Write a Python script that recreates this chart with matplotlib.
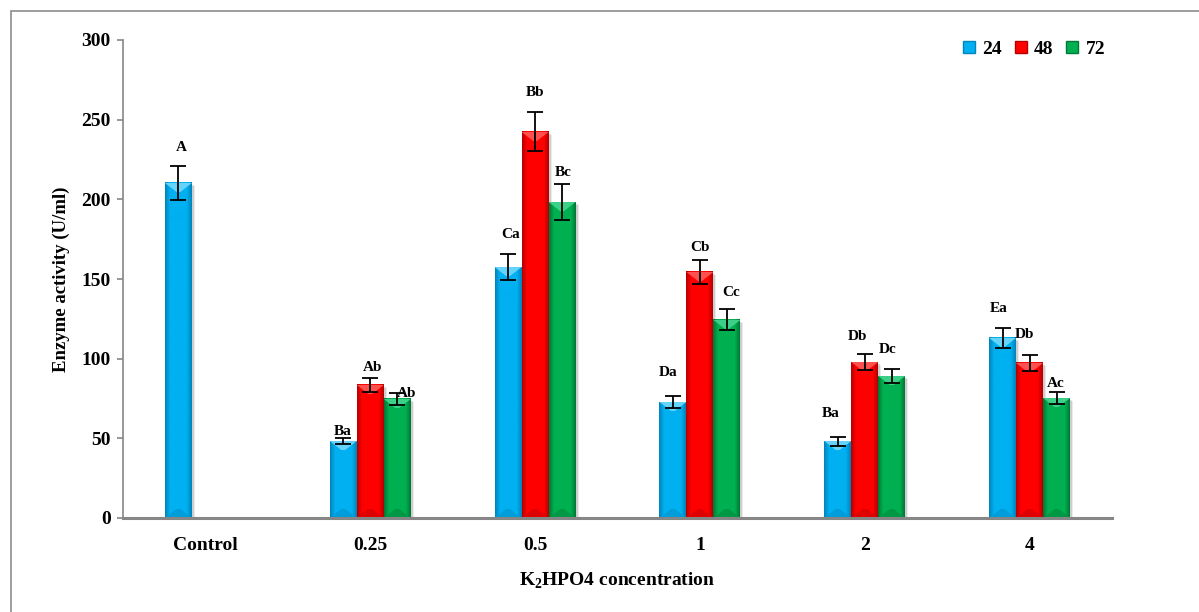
import numpy as np
import matplotlib
matplotlib.use('Agg')
import matplotlib.pyplot as plt
from matplotlib.colors import to_rgb
from matplotlib.patches import Polygon, Rectangle
from matplotlib.lines import Line2D

plt.rcParams['font.family'] = ['Liberation Serif', 'DejaVu Serif']
plt.rcParams['font.weight'] = 'bold'
plt.rcParams['mathtext.fontset'] = 'custom'
plt.rcParams['mathtext.rm'] = 'Liberation Serif:bold'
plt.rcParams['mathtext.bf'] = 'Liberation Serif:bold'

# K2HPO4 concentrations and incubation times (h)
concentrations = ['Control', '0.25', '0.5', '1', '2', '4']
hours = ['24', '48', '72']

# enzyme activity (U/ml), mean and error
act_24 = [210.3, 48.3, 157.5, 72.8, 48.3, 113.0]
act_48 = [np.nan, 83.5, 242.3, 154.4, 97.9, 97.3]
act_72 = [np.nan, 74.7, 198.3, 124.3, 89.1, 75.3]

err_24 = [10.7, 2.0, 8.2, 3.5, 2.8, 6.0]
err_48 = [0.0, 4.4, 12.2, 7.5, 5.0, 5.0]
err_72 = [0.0, 3.8, 11.3, 6.6, 4.4, 3.8]

# significance letters
let_24 = ['A', 'Ba', 'Ca', 'Da', 'Ba', 'Ea']
let_48 = ['', 'Ab', 'Bb', 'Cb', 'Db', 'Db']
let_72 = ['', 'Ab', 'Bc', 'Cc', 'Dc', 'Ac']

# letter nudges in pixels (dx, dy above the error cap)
nudge_24 = [(3, 18), (-1, 6), (2, 19), (-5, 24), (-7, 23), (-4, 20)]
nudge_48 = [(0, 0), (2, 10), (0, 20), (0, 13), (-7, 18), (-5, 21)]
nudge_72 = [(0, 0), (9, -1), (1, 12), (4, 17), (-4, 20), (-1, 8)]

colors = ['#00B0F0', '#FF0000', '#00B050']
edge_cols = ['#0086BE', '#B80000', '#007A38']
top_cols = ['#66D4FA', '#FF5050', '#3CD088']

W_PX, H_PX = 1199, 612
fig = plt.figure(figsize=(W_PX / 100, H_PX / 100), dpi=100)
ax_l, ax_b, ax_w, ax_h = 123, 94, 989, 478
ax = fig.add_axes([ax_l / W_PX, ax_b / H_PX, ax_w / W_PX, ax_h / H_PX])

xlim = (-0.5, len(concentrations) - 0.5)
ylim = (0, 300)
px_x = ax_w / (xlim[1] - xlim[0])
px_y = ax_h / (ylim[1] - ylim[0])

x = np.arange(len(concentrations))
bw = 27 / px_x


def mix(c, other, t):
    c = np.array(to_rgb(c))
    o = np.array(to_rgb(other))
    return tuple(c * (1 - t) + o * t)


def bevel_bar(xc, v, base, edge, top):
    x0, x1 = xc - bw / 2, xc + bw / 2
    # soft drop shadow
    for k, a in [(3, 0.08), (2, 0.12)]:
        ax.add_patch(Rectangle((x0 + k / px_x, -k / px_y), bw, v,
                               facecolor='black', alpha=a, lw=0, zorder=1))
    # body with darker side facets
    n = 27
    pos = np.linspace(0, 1, n)
    t = np.clip(np.maximum(0.18 - pos, pos - 0.82) / 0.18, 0, 1)
    grad = np.array([mix(base, edge, ti) for ti in t])[None, :, :]
    ax.imshow(grad, extent=[x0, x1, 0, v], aspect='auto',
              interpolation='bilinear', zorder=2)
    # top facet
    d = 9 / px_y
    s = 2 / px_x
    ax.add_patch(Polygon([(x0, v), (x1, v), (xc + s, v - d), (xc - s, v - d)],
                         closed=True, facecolor=top, lw=0, zorder=3))
    # bottom facet
    ax.add_patch(Polygon([(x0, 0), (x1, 0), (xc + s, d), (xc - s, d)],
                         closed=True, facecolor=mix(base, edge, 0.45),
                         lw=0, zorder=3))


series = [(act_24, err_24, let_24, nudge_24),
          (act_48, err_48, let_48, nudge_48),
          (act_72, err_72, let_72, nudge_72)]

for i, (vals, errs, lets, nudges) in enumerate(series):
    xs = x + (i - 1) * bw
    for xc, v, e, lab, (dx, dy) in zip(xs, vals, errs, lets, nudges):
        if np.isnan(v):
            continue
        bevel_bar(xc, v, colors[i], edge_cols[i], top_cols[i])
        ax.errorbar(xc, v, yerr=e, fmt='none', ecolor='black',
                    elinewidth=1.3, capsize=5.5, capthick=1.3, zorder=5)
        ax.annotate(lab, (xc, v + e), xytext=(dx, dy),
                    textcoords='offset pixels', ha='center', va='center',
                    fontsize=11, fontweight='bold', zorder=6)

ax.set_xlim(*xlim)
ax.set_ylim(*ylim)
ax.set_xticks(x)
ax.set_xticklabels(concentrations)
ax.set_yticks(np.arange(0, 301, 50))

ax.tick_params(axis='x', length=0, pad=14, labelsize=14)
ax.tick_params(axis='y', direction='out', length=4, width=1.2,
               color='#868686', pad=5, labelsize=14)

for side in ['top', 'right']:
    ax.spines[side].set_visible(False)
ax.spines['left'].set_color('#868686')
ax.spines['left'].set_linewidth(1.2)
ax.spines['bottom'].set_color('#868686')
ax.spines['bottom'].set_linewidth(2.2)
ax.spines['bottom'].set_zorder(7)

ax.set_ylabel('Enzyme activity (U/ml)', fontsize=13.5, fontweight='bold',
              labelpad=8)
ax.set_xlabel(r'K$_\mathbf{2}$HPO4 concentration', fontsize=14,
              fontweight='bold', labelpad=12)

handles = [Line2D([], [], marker='s', linestyle='none', markersize=8,
                  markerfacecolor=colors[i], markeredgecolor=edge_cols[i],
                  markeredgewidth=1.0) for i in range(3)]
ax.legend(handles, hours, loc='upper right', ncol=3, frameon=False,
          bbox_to_anchor=(1.0 + 5 / ax_w, 1.0 + 11 / ax_h),
          prop={'size': 14, 'weight': 'bold'},
          handlelength=0.8, handletextpad=0.3, columnspacing=0.55,
          borderaxespad=0.2)

# outer frame
fig.add_artist(Rectangle((11 / W_PX, -0.05), 1.1, (H_PX - 11) / H_PX + 0.05,
                         transform=fig.transFigure, fill=False,
                         edgecolor='#8C8C8C', lw=1.2))

fig.savefig('out.png', dpi=100)
